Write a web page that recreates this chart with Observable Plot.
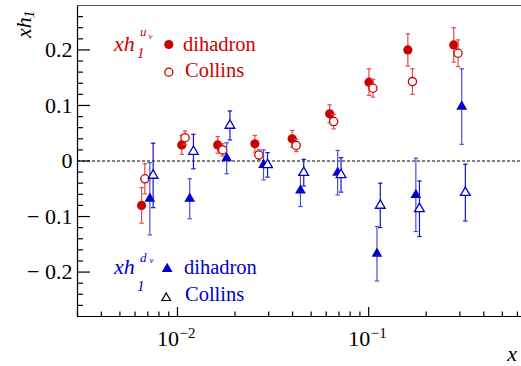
<!DOCTYPE html>
<html><head><meta charset="utf-8">
<script src="https://cdn.jsdelivr.net/npm/d3@7"></script>
<script src="https://cdn.jsdelivr.net/npm/@observablehq/plot@0.6"></script>
<style>
body{margin:0;background:#fff}
#chart{width:521px;height:366px}
</style>
</head><body><div id="chart"></div>
<script>
// ---- data ----
const xDihU = [0.00649, 0.01053, 0.01623, 0.02540, 0.03980, 0.06252, 0.1004, 0.1603, 0.2786];
const yDihU = [-0.080, 0.029, 0.029, 0.031, 0.040, 0.085, 0.142, 0.200, 0.209];
const eDihU = [0.032, 0.017, 0.015, 0.015, 0.015, 0.016, 0.024, 0.029, 0.031];

const xColU = [0.00675, 0.01095, 0.01723, 0.02665, 0.04177, 0.06559, 0.1053, 0.1694, 0.2934];
const yColU = [-0.032, 0.042, 0.020, 0.011, 0.028, 0.071, 0.131, 0.143, 0.194];
const eColU = [0.027, 0.012, 0.011, 0.009, 0.011, 0.013, 0.016, 0.023, 0.024];

const xDihD = [0.00717, 0.01159, 0.01808, 0.02819, 0.04398, 0.06883, 0.1105, 0.1765, 0.3067];
const yDihD = [-0.068, -0.068, 0.005, -0.007, -0.053, -0.021, -0.167, -0.061, 0.098];
const eDihD = [0.065, 0.036, 0.028, 0.027, 0.029, 0.040, 0.049, 0.066, 0.068];

const xColD = [0.00746, 0.01212, 0.01881, 0.02959, 0.04575, 0.07170, 0.1150, 0.1843, 0.3203];
const yColD = [-0.026, 0.017, 0.064, -0.007, -0.021, -0.025, -0.080, -0.086, -0.057];
const eColD = [0.058, 0.031, 0.026, 0.022, 0.024, 0.031, 0.040, 0.050, 0.051];

const xDomain = [0.003, 0.63];
const yDomain = [-0.28, 0.28];
const yMajor = [-0.2, -0.1, 0, 0.1, 0.2];
const yMinor = [-0.26,-0.24,-0.22,-0.18,-0.16,-0.14,-0.12,-0.08,-0.06,-0.04,-0.02,0.02,0.04,0.06,0.08,0.12,0.14,0.16,0.18,0.22,0.24,0.26];
const xMajor = [0.01, 0.1];
const xMajorExp = ["\u22122", "\u22121"];
const xMinor = [0.003,0.004,0.005,0.006,0.007,0.008,0.009,0.02,0.03,0.04,0.05,0.06,0.07,0.08,0.09,0.2,0.3,0.4,0.5,0.6];

// ---- build tables ----
const series = (xs, ys, es) => xs.map((x, i) => ({x, y: ys[i], e: es[i]}));
const dihU = series(xDihU, yDihU, eDihU);
const colU = series(xColU, yColU, eColU);
const dihD = series(xDihD, yDihD, eDihD);
const colD = series(xColD, yColD, eColD);

const RED = "#cc0000", RED_BAR = "#e04a4a";
const BLUE = "#0000cc", BLUE_BAR = "#4d4ddb", BLUE_BAR2 = "#1414c8";

const W = 521, H = 366, ML = 77, MR = 0, MT = 5, MB = 50;
const PW = W - ML - MR, PH = H - MT - MB;
const F = "Liberation Serif";

const cap = {draw(ctx, size) { const w = Math.sqrt(size / Math.PI); ctx.moveTo(-w, 0); ctx.lineTo(w, 0); }};

function errMarks(data, barColor) {
  return [
    Plot.ruleX(data, {x: "x", y1: d => d.y - d.e, y2: d => d.y + d.e, stroke: barColor, strokeWidth: 1.2}),
    Plot.dot(data, {x: "x", y: d => d.y + d.e, symbol: cap, r: 2.2, stroke: barColor, fill: "none", strokeWidth: 1.2}),
    Plot.dot(data, {x: "x", y: d => d.y - d.e, symbol: cap, r: 2.2, stroke: barColor, fill: "none", strokeWidth: 1.2})
  ];
}

const fmt = d => d === 0 ? "0" : d < 0 ? "\u2212 " + Math.abs(d) : String(d);

const plot = Plot.plot({
  width: W, height: H,
  marginLeft: ML, marginRight: MR, marginTop: MT, marginBottom: MB,
  style: {fontFamily: F, background: "white", color: "black"},
  x: {type: "log", domain: xDomain, axis: null},
  y: {domain: yDomain, axis: null},
  marks: [
    Plot.ruleY([0], {stroke: "black", strokeWidth: 1, strokeDasharray: "3,2"}),
    Plot.ruleX([xDomain[0]], {stroke: "black", strokeWidth: 1.2}),
    Plot.ruleY([yDomain[0]], {stroke: "black", strokeWidth: 1.2}),
    Plot.ruleY([yDomain[1]], {stroke: "#555", strokeWidth: 1.2}),
    Plot.tickY(yMajor, {y: d => d, insetRight: PW - 13, stroke: "black", strokeWidth: 1.2}),
    Plot.tickY(yMinor, {y: d => d, insetRight: PW - 6, stroke: "black", strokeWidth: 1.2}),
    Plot.axisY(yMajor, {tickSize: 0, tickPadding: 5, tickFormat: fmt, fontSize: 22, fontFamily: F, label: null}),
    Plot.tickX(xMajor, {x: d => d, insetTop: PH - 9, stroke: "black", strokeWidth: 1.2}),
    Plot.tickX(xMinor, {x: d => d, insetTop: PH - 4.5, stroke: "black", strokeWidth: 1.2}),
    Plot.text(xMajor, {x: d => d, frameAnchor: "bottom", text: () => "10", textAnchor: "end", lineAnchor: "bottom", dx: 1.5, dy: 29, fontSize: 22, fontFamily: F, fill: "black"}),
    Plot.text(xMajor, {x: d => d, frameAnchor: "bottom", text: (d, i) => xMajorExp[i], textAnchor: "start", lineAnchor: "bottom", dx: 2, dy: 21, fontSize: 15, fontFamily: F, fill: "black"}),
    ...errMarks(dihU, RED_BAR),
    Plot.dot(dihU, {x: "x", y: "y", r: 4.6, fill: RED, stroke: "none"}),
    ...errMarks(colU, RED_BAR),
    Plot.dot(colU, {x: "x", y: "y", r: 4.1, fill: "white", stroke: RED, strokeWidth: 1.3}),
    ...errMarks(dihD, BLUE_BAR),
    Plot.dot(dihD, {x: "x", y: "y", r: 4, symbol: "triangle", fill: BLUE, stroke: "none"}),
    ...errMarks(colD, BLUE_BAR2),
    Plot.dot(colD, {x: "x", y: "y", r: 3.6, symbol: "triangle", fill: "white", stroke: BLUE, strokeWidth: 1.3}),
    Plot.dot([0], {frameAnchor: "top-left", dx: 168.3 - ML, dy: 44 - MT, r: 4.6, fill: RED, stroke: "none"}),
    Plot.dot([0], {frameAnchor: "top-left", dx: 168.3 - ML, dy: 71.7 - MT, r: 4, fill: "white", stroke: RED, strokeWidth: 1.3}),
    Plot.dot([0], {frameAnchor: "top-left", dx: 166.7 - ML, dy: 268.5 - MT, r: 4, symbol: "triangle", fill: BLUE, stroke: "none"}),
    Plot.dot([0], {frameAnchor: "top-left", dx: 165.7 - ML, dy: 297.5 - MT, r: 3.2, symbol: "triangle", fill: "white", stroke: "black", strokeWidth: 1.2})
  ]
});
document.getElementById("chart").appendChild(plot);

const svg = d3.select(plot);
function txt(x, y, s, size, color, italic, anchor) {
  return svg.append("text").attr("x", x).attr("y", y).text(s)
    .attr("font-family", F).attr("font-size", size).attr("fill", color)
    .attr("font-style", italic ? "italic" : "normal")
    .attr("text-anchor", anchor || "start");
}
// y-axis title (rotated)
const yt = svg.append("g").attr("transform", "translate(31,38) rotate(-90)");
yt.append("text").attr("text-anchor", "start").attr("font-family", F).attr("font-size", 22).attr("font-style", "italic").attr("fill", "black").text("xh");
yt.append("text").attr("text-anchor", "start").attr("x", 20).attr("y", 3).attr("font-family", F).attr("font-size", 15).attr("font-style", "italic").attr("fill", "black").text("1");
txt(517, 361, "x", 22, "black", true, "end");

// red legend
txt(114, 51, "xh", 22, RED, true);
txt(137, 57.5, "1", 15, RED, true);
txt(140, 36, "u", 13, RED, true);
txt(148.5, 38.5, "v", 9, RED, true);
txt(183, 51, "dihadron", 20.5, RED, false);
txt(185, 77, "Collins", 20.5, RED, false);

// blue legend
txt(114, 274, "xh", 22, BLUE, true);
txt(137, 290.5, "1", 15, BLUE, true);
txt(140, 262, "d", 13, BLUE, true);
txt(149.5, 262.5, "v", 9, BLUE, true);
txt(184, 274, "dihadron", 20.5, BLUE, false);
txt(185, 301, "Collins", 20.5, BLUE, false);
</script>
</body></html>
